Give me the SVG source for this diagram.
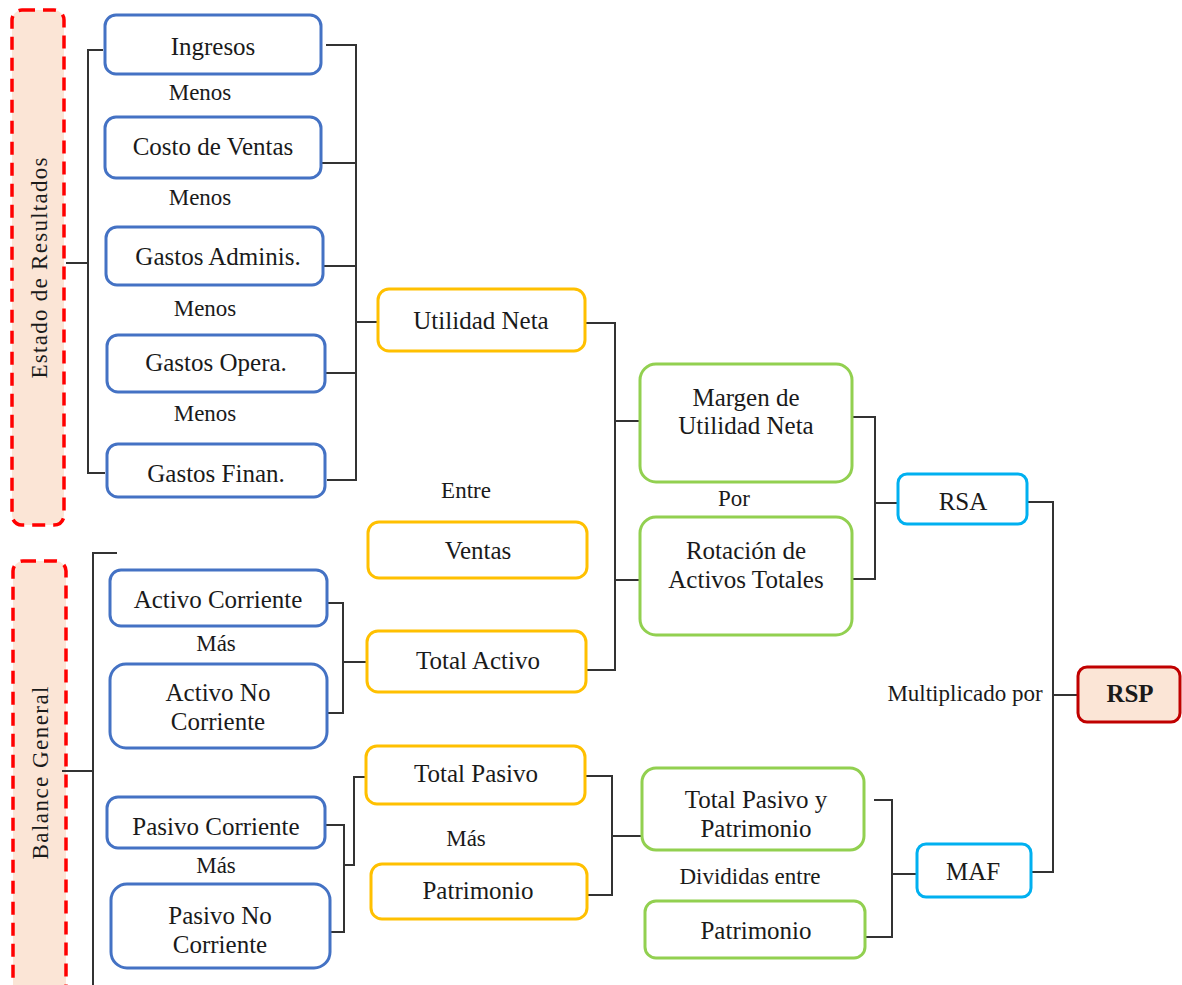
<svg xmlns="http://www.w3.org/2000/svg" width="1182" height="985" viewBox="0 0 1182 985">
<style>
text{font-family:"Liberation Serif","Times New Roman",serif;fill:#1a1a1a;font-size:25px;text-anchor:middle;dominant-baseline:central}
.lbl{font-size:23px}
.blue{fill:#fff;stroke:#4472C4;stroke-width:3}
.orange{fill:#fff;stroke:#FFC000;stroke-width:3}
.green{fill:#fff;stroke:#92D050;stroke-width:3}
.cyan{fill:#fff;stroke:#00B0F0;stroke-width:3}
.red{fill:#FBE5D6;stroke:#C00000;stroke-width:3}
.dash{fill:#FBE5D6;stroke:#FF0000;stroke-width:3.5;stroke-dasharray:13 8}
.side{font-size:23px}
#connectors path{fill:none;stroke:#333;stroke-width:2}
</style>
<rect width="1182" height="985" fill="#fff"/>
<g font-family="Liberation Serif, Times New Roman, serif">
<g id="estado">
<rect class="dash" x="12" y="10" width="52" height="515" rx="10"/>
<text class="side" transform="translate(39,268) rotate(-90)" textLength="221" lengthAdjust="spacing">Estado de Resultados</text>
</g>
<g id="balance">
<rect class="dash" x="13" y="561" width="53" height="440" rx="10"/>
<text class="side" transform="translate(40,773) rotate(-90)" textLength="173" lengthAdjust="spacing">Balance General</text>
</g>
<g id="connectors">
<path d="M103,50 H88 V473 H105 M66,263 H88"/>
<path d="M326,45 H356 V480 H327 M321,163 H356 M323,266 H356 M325,373 H356 M356,322 H378"/>
<path d="M586,323 H615 V670 H586 M615,421 H640 M615,580 H640"/>
<path d="M852,417 H875 V579 H852 M875,503 H898"/>
<path d="M1028,502 H1053 V872 H1031 M1053,695 H1078"/>
<path d="M874,800 H892 V937 H865 M892,874 H917"/>
<path d="M117,553 H93 V990 M62,771 H93"/>
<path d="M327,603 H343 V713 H327 M343,662 H367"/>
<path d="M325,825 H344 V932 H330 M344,865 H354 V777 H366"/>
<path d="M585,776 H612 V895 H587 M612,836 H642"/>
</g>
<g id="ingresos"><rect class="blue" x="105" y="15" width="216" height="59" rx="11"/><text x="213" y="46">Ingresos</text></g>
<text class="lbl" x="200" y="92">Menos</text>
<g id="costo"><rect class="blue" x="105" y="117" width="216" height="61" rx="11"/><text x="213" y="146">Costo de Ventas</text></g>
<text class="lbl" x="200" y="197">Menos</text>
<g id="gadmin"><rect class="blue" x="106" y="227" width="217" height="58" rx="11"/><text x="218" y="256">Gastos Adminis.</text></g>
<text class="lbl" x="205" y="308">Menos</text>
<g id="gopera"><rect class="blue" x="107" y="335" width="218" height="57" rx="11"/><text x="216" y="362">Gastos Opera.</text></g>
<text class="lbl" x="205" y="413">Menos</text>
<g id="gfinan"><rect class="blue" x="107" y="444" width="218" height="53" rx="11"/><text x="216" y="473">Gastos Finan.</text></g>

<g id="utilidad"><rect class="orange" x="378" y="289" width="207" height="62" rx="11"/><text x="481" y="320">Utilidad Neta</text></g>
<text class="lbl" x="466" y="490">Entre</text>
<g id="ventas"><rect class="orange" x="368" y="522" width="219" height="56" rx="11"/><text x="478" y="550">Ventas</text></g>
<g id="totalactivo"><rect class="orange" x="367" y="631" width="219" height="61" rx="11"/><text x="478" y="660">Total Activo</text></g>

<g id="margen"><rect class="green" x="640" y="364" width="212" height="118" rx="16"/><text x="746" y="397">Margen de</text><text x="746" y="425">Utilidad Neta</text></g>
<text class="lbl" x="734" y="498">Por</text>
<g id="rotacion"><rect class="green" x="640" y="517" width="212" height="118" rx="16"/><text x="746" y="550">Rotación de</text><text x="746" y="579">Activos Totales</text></g>

<g id="rsa"><rect class="cyan" x="898" y="474" width="129" height="50" rx="9"/><text x="963" y="501">RSA</text></g>
<text class="lbl" x="965" y="693">Multiplicado por</text>
<g id="rsp"><rect class="red" x="1078" y="667" width="102" height="55" rx="9"/><text x="1130" y="693" font-weight="bold">RSP</text></g>
<g id="maf"><rect class="cyan" x="917" y="844" width="114" height="53" rx="9"/><text x="973" y="871">MAF</text></g>

<g id="activocorr"><rect class="blue" x="110" y="570" width="217" height="56" rx="11"/><text x="218" y="599">Activo Corriente</text></g>
<text class="lbl" x="216" y="643">Más</text>
<g id="activonocorr"><rect class="blue" x="110" y="664" width="217" height="84" rx="16"/><text x="218" y="692">Activo No</text><text x="218" y="721">Corriente</text></g>
<g id="pasivocorr"><rect class="blue" x="107" y="797" width="218" height="51" rx="11"/><text x="216" y="826">Pasivo Corriente</text></g>
<text class="lbl" x="216" y="865">Más</text>
<g id="pasivonocorr"><rect class="blue" x="111" y="884" width="219" height="84" rx="16"/><text x="220" y="915">Pasivo No</text><text x="220" y="944">Corriente</text></g>

<g id="totalpasivo"><rect class="orange" x="366" y="746" width="219" height="58" rx="11"/><text x="476" y="773">Total Pasivo</text></g>
<text class="lbl" x="466" y="838">Más</text>
<g id="patrimonio1"><rect class="orange" x="371" y="864" width="216" height="55" rx="11"/><text x="478" y="890">Patrimonio</text></g>
<g id="tpyp"><rect class="green" x="642" y="768" width="222" height="82" rx="14"/><text x="756" y="799">Total Pasivo y</text><text x="756" y="828">Patrimonio</text></g>
<text class="lbl" x="750" y="876">Divididas entre</text>
<g id="patrimonio2"><rect class="green" x="645" y="901" width="220" height="57" rx="11"/><text x="756" y="930">Patrimonio</text></g>
</g>
</svg>
